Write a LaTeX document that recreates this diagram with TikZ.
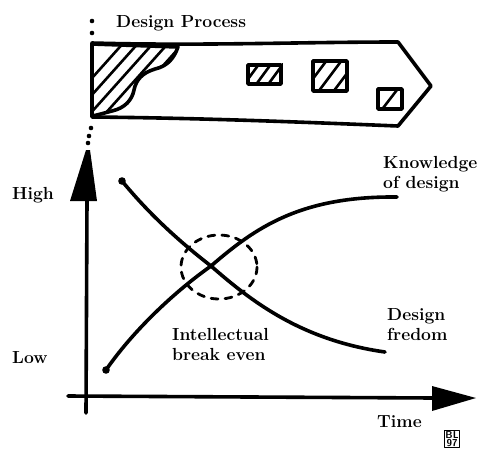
\documentclass[tikz,border=0pt]{standalone}
\usetikzlibrary{calc}
\begin{document}
\begin{tikzpicture}[x=1pt,y=-1pt,line cap=round,line join=round,
  heavy/.style={line width=3.6pt},
  hatch/.style={line width=2.6pt},
  lbl/.style={font=\fontsize{17.5}{20}\selectfont\bfseries,inner sep=0pt,align=left},
  dotmark/.style={fill=black,draw=none}]
\useasboundingbox (0,0) rectangle (482,456);

% ---------- banner ----------
\coordinate (b1) at (92,43);
\coordinate (b2) at (398,42);
\coordinate (btip) at (431,86);
\coordinate (b3) at (398,126);
\coordinate (b4) at (92,117);
\begin{scope}
  \clip (92,44) -- (178,47) .. controls (174,58) and (168,66) .. (155,69)
        .. controls (142,73) and (136,80) .. (134,90)
        .. controls (132,100) and (125,108) .. (112,111)
        .. controls (104,113) and (98,115) .. (92,116) -- cycle;
  \foreach \i in {-2,...,12}
    \draw[hatch] (80+\i*15,125) -- ++(85,-95);
\end{scope}
\draw[heavy] (92,44) -- (178,47) .. controls (174,58) and (168,66) .. (155,69)
        .. controls (142,73) and (136,80) .. (134,90)
        .. controls (132,100) and (125,108) .. (112,111)
        .. controls (104,113) and (98,115) .. (92,116);
\draw[heavy] (b1) .. controls (200,46) and (300,42) .. (b2) -- (btip) -- (b3)
      .. controls (300,122) and (200,118) .. (b4) -- cycle;

% small hatched boxes
\node[draw,line width=3.6pt,minimum width=33pt,minimum height=19pt,inner sep=0pt] (r1) at (264.5,74.5) {};
\node[draw,line width=3.6pt,minimum width=34pt,minimum height=30pt,inner sep=0pt] (r2) at (330,76) {};
\node[draw,line width=3.6pt,minimum width=24pt,minimum height=20pt,inner sep=0pt] (r3) at (390,99) {};
\begin{scope}
  \clip (r1.south west) rectangle (r1.north east);
  \foreach \i in {0,...,3} \draw[hatch] (240+\i*12,90) -- ++(22,-30);
\end{scope}
\begin{scope}
  \clip (r2.south west) rectangle (r2.north east);
  \foreach \i in {0,...,2} \draw[hatch] (300+\i*15,96) -- ++(30,-40);
\end{scope}
\begin{scope}
  \clip (r3.south west) rectangle (r3.north east);
  \draw[hatch] (380,112) -- ++(20,-26);
\end{scope}

\node[lbl,anchor=base west] (title) at (116,27) {Design Process};

% dotted connection
\foreach \p in {(92,21),(92,33),(91,128),(89,136),(88,143)}
  \fill \p circle (2.3pt);

% ---------- axes ----------
\coordinate (ybot) at (86,413);
\coordinate (ytop) at (87,200);
\draw[heavy] (ybot) -- (ytop);
\fill (86,150) -- (90,150) -- (97,201) -- (70,201) -- cycle;

\coordinate (xl) at (68,396);
\coordinate (xr) at (434,398);
\draw[heavy] (xl) -- (xr);
\fill (432,386) -- (476,398) -- (432,411) -- cycle;

% ---------- curves ----------
\coordinate (f0) at (122,181);
\coordinate (cross) at (211,266);
\coordinate (f1) at (385,352);
\coordinate (k0) at (106,370);
\coordinate (k1) at (397,197);
\draw[heavy] (f0) .. controls (150,215) and (180,242) .. (cross)
      .. controls (250,300) and (300,340) .. (f1);
\draw[heavy] (k0) .. controls (130,335) and (170,295) .. (cross)
      .. controls (255,228) and (300,196) .. (k1);
\fill (f0) circle (3.8pt);
\fill (k0) circle (3.8pt);

\draw[line width=2.8pt,dash pattern=on 7pt off 7pt] (219,267) ellipse [x radius=38,y radius=32];

% ---------- labels ----------
\node[lbl,anchor=base west] (high) at (12,199) {High};
\node[lbl,anchor=base west] (low) at (12,363) {Low};
\node[lbl,anchor=base west] (know) at (383,188) {Knowledge\\of design};
\node[lbl,anchor=base west] (free) at (387,340) {Design\\fredom};
\node[lbl,anchor=base west] (ibe) at (172,360) {Intellectual\\break even};
\node[lbl,anchor=base west] (time) at (377,427) {Time};
\node[draw,line width=1.3pt,inner sep=1pt,align=center,
      font=\fontsize{10}{8.5}\selectfont\sffamily\bfseries] (sig) at (452,439) {BL\\97};
\end{tikzpicture}
\end{document}
